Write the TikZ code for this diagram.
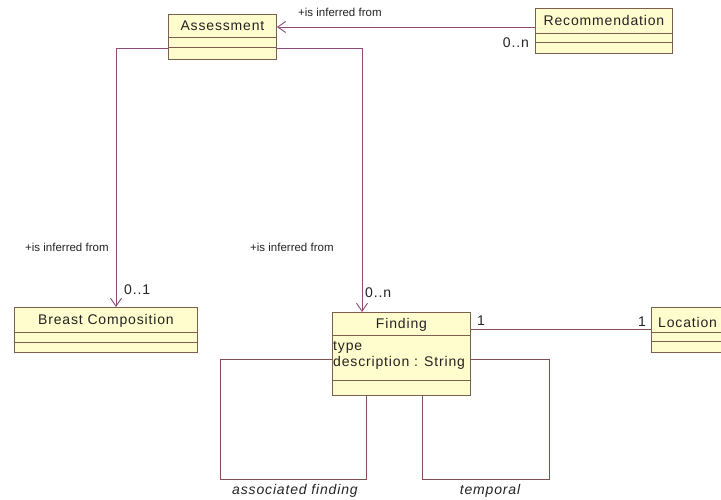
\documentclass[tikz,border=0pt]{standalone}
\usepackage{fontspec}
\setmainfont{Liberation Sans}
\usetikzlibrary{arrows.meta,calc}
\definecolor{boxfill}{RGB}{255,252,206}
\definecolor{boxline}{RGB}{125,95,80}
\definecolor{navline}{RGB}{140,75,120}
\definecolor{assocline}{RGB}{130,80,80}
\definecolor{txt}{RGB}{35,35,35}
\newcommand{\bigtxt}{\fontsize{14}{16}\selectfont\addfontfeature{LetterSpace=6}}
\newcommand{\smalltxt}{\fontsize{11.5}{13}\selectfont}
\begin{document}
\begin{tikzpicture}[x=1pt,y=-1pt,
  umlbox/.style={draw=boxline,fill=boxfill,line width=0.9pt,inner sep=0pt,anchor=north west},
  cname/.style={text=txt,font=\bigtxt,inner sep=0pt},
  attr/.style={text=txt,font=\bigtxt,inner sep=0pt,anchor=west},
  lbl/.style={text=txt,font=\smalltxt,inner sep=0pt},
  mult/.style={text=txt,font=\bigtxt,inner sep=0pt},
  rolelbl/.style={text=txt,font=\bigtxt\itshape,inner sep=0pt},
  nav/.style={draw=navline,line width=0.9pt,-{Straight Barb[length=8pt,width=11pt,line width=0.9pt]}},
  assoc/.style={draw=assocline,line width=0.9pt}]
\useasboundingbox (0,0) rectangle (721,500);
% Assessment
\node[umlbox,minimum width=108pt,minimum height=45pt] (assess) at (168,14) {};
\draw[boxline,line width=0.9pt] ($(assess.north west)+(0,23)$) -- ($(assess.north east)+(0,23)$);
\draw[boxline,line width=0.9pt] ($(assess.north west)+(0,33)$) -- ($(assess.north east)+(0,33)$);
\node[cname] (assessname) at ($(assess.north)+(0,11.5)$) {Assessment};
% Recommendation
\node[umlbox,minimum width=137pt,minimum height=45pt] (rec) at (535,8) {};
\draw[boxline,line width=0.9pt] ($(rec.north west)+(0,25)$) -- ($(rec.north east)+(0,25)$);
\draw[boxline,line width=0.9pt] ($(rec.north west)+(0,34)$) -- ($(rec.north east)+(0,34)$);
\node[cname] (recname) at ($(rec.north)+(0,12.5)$) {Recommendation};
% Breast Composition
\node[umlbox,minimum width=183pt,minimum height=45pt] (breast) at (14,307) {};
\draw[boxline,line width=0.9pt] ($(breast.north west)+(0,25)$) -- ($(breast.north east)+(0,25)$);
\draw[boxline,line width=0.9pt] ($(breast.north west)+(0,35)$) -- ($(breast.north east)+(0,35)$);
\node[cname] (breastname) at ($(breast.north)+(0,14)$) {Breast Composition};
% Location
\node[umlbox,minimum width=100pt,minimum height=45pt] (loc) at (651,307) {};
\draw[boxline,line width=0.9pt] ($(loc.north west)+(0,25)$) -- ($(loc.north east)+(0,25)$);
\draw[boxline,line width=0.9pt] ($(loc.north west)+(0,34)$) -- ($(loc.north east)+(0,34)$);
\node[cname,anchor=west] (locname) at ($(loc.north west)+(7,15)$) {Location};
% Finding
\node[umlbox,minimum width=138pt,minimum height=83pt] (find) at (332,312) {};
\draw[boxline,line width=0.9pt] ($(find.north west)+(0,23)$) -- ($(find.north east)+(0,23)$);
\draw[boxline,line width=0.9pt] ($(find.north west)+(0,68)$) -- ($(find.north east)+(0,68)$);
\node[cname] (findname) at ($(find.north)+(0,13)$) {Finding};
\node[attr] (attrtype) at ($(find.north west)+(1,35)$) {type};
\node[attr] (attrdesc) at ($(find.north west)+(1,51)$) {description : String};
% Recommendation -> Assessment
\draw[nav] ($(rec.north west)+(0,19)$) -- ($(assess.north east)+(0,13)$);
\node[lbl,anchor=west] (l1) at (298,12) {+is inferred from};
\node[mult,anchor=east] (m1) at (529,43) {0..n};
% Assessment -> Breast Composition
\coordinate (bend1) at (116,48);
\draw[nav] ($(assess.north west)+(0,34)$) -- (bend1) -- (bend1 |- breast.north);
\node[lbl,anchor=west] (l2) at (25,247) {+is inferred from};
\node[mult,anchor=west] (m2) at (124,290) {0..1};
% Assessment -> Finding
\coordinate (bend2) at (362,48);
\draw[nav] ($(assess.north east)+(0,34)$) -- (bend2) -- (bend2 |- find.north);
\node[lbl,anchor=west] (l3) at (250,247) {+is inferred from};
\node[mult,anchor=west] (m3) at (365,293) {0..n};
% Finding -- Location
\draw[assoc] ($(find.north east)+(0,17)$) -- ($(loc.north west)+(0,22)$);
\node[mult] (m4) at (481,321) {1};
\node[mult] (m5) at (642,322) {1};
% associated finding loop
\coordinate (a1) at (220,359);
\coordinate (a2) at (220,479);
\coordinate (a3) at (366,479);
\draw[assoc] ($(find.north west)+(0,47)$) -- (a1) -- (a2) -- (a3) -- (a3 |- find.south);
\node[rolelbl] (r1) at (295,491) {associated finding};
% temporal loop
\coordinate (t1) at (422,479);
\coordinate (t2) at (549,479);
\coordinate (t3) at (549,359);
\draw[assoc] (t1 |- find.south) -- (t1) -- (t2) -- (t3) -- ($(find.north east)+(0,47)$);
\node[rolelbl] (r2) at (490,491) {temporal};
\end{tikzpicture}
\end{document}
